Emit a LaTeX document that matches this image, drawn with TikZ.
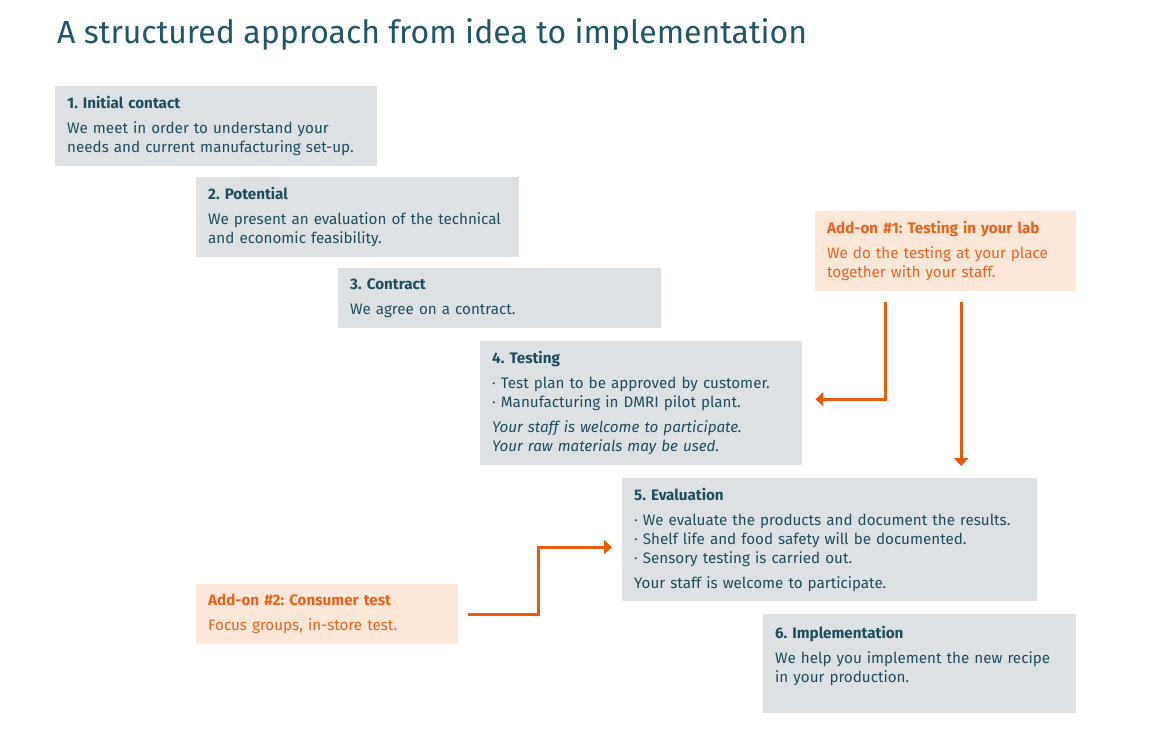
\documentclass[tikz,border=0pt]{standalone}
\usepackage{fontspec}
\setmainfont{Fira Sans}
\usetikzlibrary{arrows.meta, positioning}

\definecolor{boxgray}{HTML}{DDE1E4}
\definecolor{darkteal}{HTML}{1E4D5C}
\definecolor{titleteal}{HTML}{1F5668}
\definecolor{addonfill}{HTML}{FDE7D9}
\definecolor{addonorange}{HTML}{E8641E}
\definecolor{arroworange}{HTML}{E85A0C}

\tikzset{
  stepbox/.style={fill=boxgray, text=darkteal, anchor=north west, align=left,
    inner xsep=12pt, inner ysep=0pt, font=\fontsize{15.2}{19}\selectfont\frenchspacing},
  addonbox/.style={stepbox, fill=addonfill, text=addonorange},
  flow/.style={-{Triangle[length=8pt,width=14pt]}, line width=3pt, draw=arroworange}
}

\begin{document}
\begin{tikzpicture}[x=1pt, y=-1pt]
    \useasboundingbox (0,0) rectangle (1154,732);

    \node[anchor=west, inner sep=0pt, text=titleteal, font=\fontsize{32}{38}\selectfont] (title) at (57,34) {A structured approach from idea to implementation};

    % the six steps
    \node[stepbox, text width=298pt, minimum height=80pt] (contact) at (55,86) {\textbf{1. Initial contact}\\[6pt] We meet in order to understand your\\ needs and current manufacturing set-up.};
    \node[stepbox, text width=299pt, minimum height=80pt] (potential) at (196,177) {\textbf{2. Potential}\\[6pt] We present an evaluation of the technical\\ and economic feasibility.};
    \node[stepbox, text width=299pt, minimum height=60pt] (contract) at (338,268) {\textbf{3. Contract}\\[6pt] We agree on a contract.};
    \node[stepbox, text width=298pt, minimum height=124pt] (testing) at (480,341) {\textbf{4. Testing}\\[6pt] · Test plan to be approved by customer.\\ · Manufacturing in DMRI pilot plant.\\[6pt] \textit{Your staff is welcome to participate.}\\ \textit{Your raw materials may be used.}};
    \node[stepbox, text width=391pt, minimum height=123pt] (evaluation) at (622,478) {\textbf{5. Evaluation}\\[6pt] · We evaluate the products and document the results.\\ · Shelf life and food safety will be documented.\\ · Sensory testing is carried out.\\[6pt] Your staff is welcome to participate.};
    \node[stepbox, text width=289pt, minimum height=99pt] (implement) at (763,614) {\textbf{6. Implementation}\\[6pt] We help you implement the new recipe\\ in your production.\\ \mbox{}};

    % add-ons
    \node[addonbox, text width=237pt, minimum height=80pt] (labtest) at (815,211) {\textbf{Add-on \#1: Testing in your lab}\\[6pt] We do the testing at your place\\ together with your staff.};
    \node[addonbox, text width=238pt, minimum height=60pt] (consumer) at (196,584) {\textbf{Add-on \#2: Consumer test}\\[6pt] Focus groups, in-store test.};

    \draw[flow, shorten <=11pt, shorten >=13pt] ([xshift=-60.5pt]labtest.south) |- ([yshift=4pt]testing.east);
    \draw[flow, shorten <=11pt, shorten >=12pt] ([xshift=15.5pt]labtest.south) -- ([xshift=15.5pt]labtest.south |- evaluation.north);
    \draw[flow, shorten <=10pt, shorten >=10pt] (consumer.east) -- ++(80,0) |- ([yshift=-7.5pt]evaluation.west);
\end{tikzpicture}
\end{document}
